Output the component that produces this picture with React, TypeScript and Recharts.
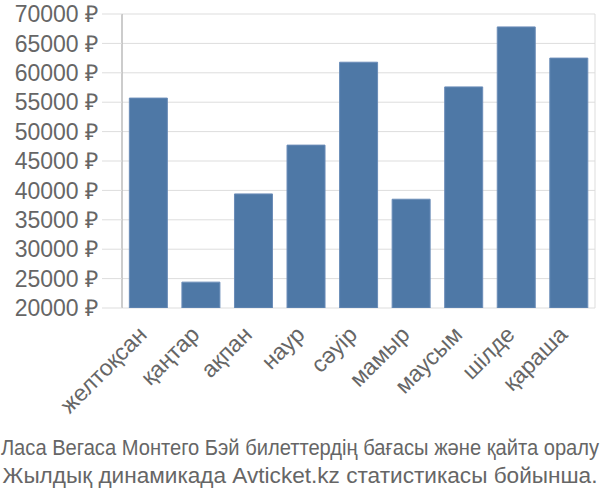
import { BarChart, Bar, XAxis, YAxis, CartesianGrid } from "recharts";

const months = ["желтоқсан", "қаңтар", "ақпан", "наур", "сәуір", "мамыр", "маусым", "шілде", "қараша"];
const prices = [55700, 24400, 39400, 47700, 61800, 38500, 57600, 67800, 62500];
const yTicks = [20000, 25000, 30000, 35000, 40000, 45000, 50000, 55000, 60000, 65000, 70000];
const boundaries = [0, 1, 2, 3, 4, 5, 6, 7, 8, 9];
const captionLines = [
  "Ласа Вегаса Монтего Бэй билеттердің бағасы және қайта оралу",
  "Жылдық динамикада Avticket.kz статистикасы бойынша.",
];

const chartData = months.map((m, i) => ({ month: m, price: prices[i] }));

const font = "'Liberation Sans', Arial, sans-serif";

function MonthTick({ x, y, payload }: any) {
  return (
    <text
      x={x}
      y={y + 20}
      transform={`rotate(-45, ${x}, ${y + 20})`}
      textAnchor="end"
      fill="#666"
      fontSize={23}
      fontFamily={font}
    >
      {payload.value}
    </text>
  );
}

export default function App() {
  return (
    <div style={{ position: "relative", width: 600, height: 500 }}>
      <style>{`body { margin: 0; }`}</style>
      <BarChart
        width={600}
        height={500}
        data={chartData}
        margin={{ top: 14, right: 5, left: 0, bottom: 0 }}
        barCategoryGap="14%"
      >
        <CartesianGrid stroke="#ddd" xAxisId="b" vertical horizontal />
        <XAxis
          xAxisId="b"
          type="number"
          domain={[0, 9]}
          ticks={boundaries}
          height={0}
          tick={false}
          tickSize={19}
          tickLine={{ stroke: "#ddd" }}
          axisLine={{ stroke: "#ddd" }}
        />
        <XAxis
          dataKey="month"
          height={192}
          interval={0}
          tickLine={false}
          axisLine={false}
          tick={<MonthTick />}
        />
        <YAxis
          domain={[20000, 70000]}
          ticks={yTicks}
          interval={0}
          width={122}
          allowDataOverflow
          tickFormatter={(v) => `${v} ₽`}
          tickSize={20}
          tickMargin={4}
          tickLine={{ stroke: "#ddd" }}
          axisLine={{ stroke: "#aaa" }}
          tick={{ fill: "#666", fontSize: 23, fontFamily: font }}
        />
        <Bar
          dataKey="price"
          fill="#4e78a6"
          stroke="#6a8cb8"
          strokeWidth={1}
          isAnimationActive={false}
        />
      </BarChart>
      <svg width={600} height={500} style={{ position: "absolute", left: 0, top: 0, pointerEvents: "none" }}>
        <text
          transform="translate(300,455) scale(0.915,1)"
          textAnchor="middle"
          fill="#666"
          fontSize={22}
          fontFamily={font}
        >
          {captionLines[0]}
        </text>
        <text x={300} y={483} textAnchor="middle" fill="#666" fontSize={22.6} fontFamily={font}>
          {captionLines[1]}
        </text>
      </svg>
    </div>
  );
}
